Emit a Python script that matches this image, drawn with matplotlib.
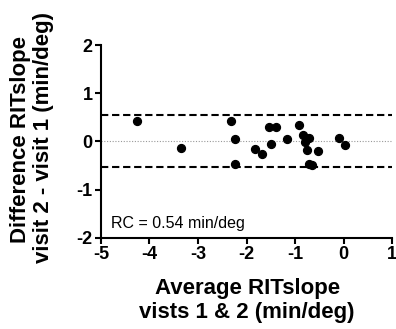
import matplotlib
matplotlib.use("Agg")
import matplotlib.pyplot as plt

plt.rcParams['font.family'] = ['Liberation Sans', 'DejaVu Sans']
plt.rcParams['axes.unicode_minus'] = False

avg = [-4.25, -3.35, -2.32, -2.24, -2.23, -1.82, -1.69, -1.53, -1.39, -1.50,
       -1.16, -0.92, -0.83, -0.72, -0.80, -0.75, -0.72, -0.65, -0.52, -0.09, 0.02]
diff = [0.43, -0.145, 0.43, 0.05, -0.46, -0.16, -0.26, 0.30, 0.30, -0.06,
        0.06, 0.35, 0.14, 0.08, -0.02, -0.17, -0.46, -0.48, -0.20, 0.08, -0.08]
rc = 0.54
xticks = [-5, -4, -3, -2, -1, 0, 1]
yticks = [-2, -1, 0, 1, 2]

fig = plt.figure(figsize=(3.96, 3.29), dpi=100)
ax = fig.add_axes([0.255, 0.277, 0.735, 0.586])

ax.axhline(0, color='#999999', lw=0.8, ls=(0, (1, 1.5)), zorder=1)
ax.axhline(rc, color='black', lw=1.5, ls=(0, (3.5, 1.8)), zorder=2)
ax.axhline(-rc, color='black', lw=1.5, ls=(0, (3.5, 1.8)), zorder=2)
ax.scatter(avg, diff, s=32, color='black', zorder=3, clip_on=False)

ax.set_xlim(-5, 1)
ax.set_ylim(-2, 2)
ax.set_xticks(xticks)
ax.set_yticks(yticks)
ax.set_xticklabels([str(t) for t in xticks], fontsize=13, fontweight='bold')
ax.set_yticklabels([str(t) for t in yticks], fontsize=13, fontweight='bold')
for s in ['top', 'right']:
    ax.spines[s].set_visible(False)
for s in ['left', 'bottom']:
    ax.spines[s].set_linewidth(1.5)
ax.tick_params(direction='out', length=4, width=1.5, pad=2)

ax.text(-4.8, -1.7, 'RC = 0.54 min/deg', fontsize=11.5, va='center', ha='left')

fig.text(0.624, 0.155, 'Average RITslope\nvists 1 & 2 (min/deg)', fontsize=16,
         fontweight='bold', ha='center', va='top', linespacing=1.2)
fig.text(0.051, 0.2614, 'Difference RITslope',
         fontsize=16, fontweight='bold', rotation=90, ha='center', va='bottom')
fig.text(0.111, 0.2006, 'visit 2 - visit 1 (min/deg)',
         fontsize=16, fontweight='bold', rotation=90, ha='center', va='bottom')

fig.savefig('out.png', dpi=100)
